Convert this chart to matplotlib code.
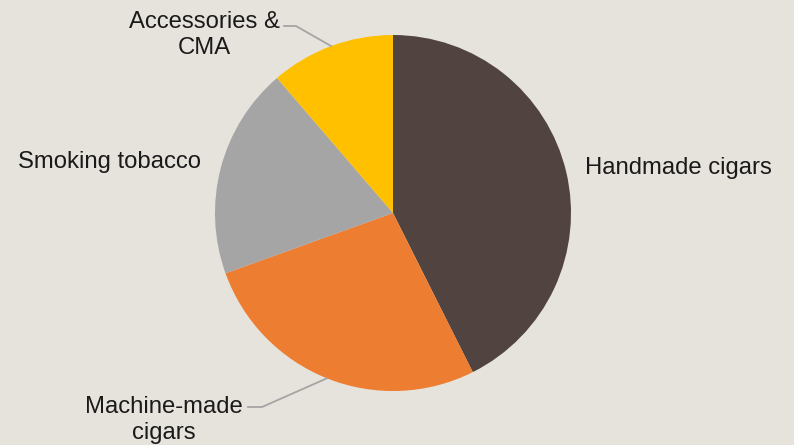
import numpy as np
import matplotlib.pyplot as plt

plt.rcParams['font.family'] = ['Liberation Sans', 'DejaVu Sans']

# доли сегментов, по часовой стрелке от верха
labels = ["Handmade cigars", "Machine-made\ncigars", "Smoking tobacco", "Accessories &\nCMA"]
shares = [42.6, 26.9, 19.2, 11.3]
colors = ["#504340", "#ED7D31", "#A5A5A5", "#FFC000"]

bg = "#E6E2DC"
W, H = 794, 445
cx, cy, R = 393, H - 213, 178

fig = plt.figure(figsize=(W / 100, H / 100), dpi=100, facecolor=bg)
ax = fig.add_axes([0, 0, 1, 1])
ax.set_facecolor(bg)

wedges, _ = ax.pie(shares, colors=colors, startangle=90, counterclock=False,
                   center=(cx, cy), radius=R, wedgeprops=dict(linewidth=0))
ax.set_xlim(0, W)
ax.set_ylim(0, H)
ax.set_aspect("equal")
ax.axis("off")

fs = 17.2
tc = "#1a1a1a"
ax.text(585, H - 168, labels[0], fontsize=fs, ha="left", va="center", color=tc)
ax.text(18, H - 162, labels[2], fontsize=fs, ha="left", va="center", color=tc)
ax.text(204, H - 35, labels[3], fontsize=fs, ha="center", va="center",
        color=tc, linespacing=1.25)
ax.text(164, H - 420, labels[1], fontsize=fs, ha="center", va="center",
        color=tc, linespacing=1.25)


def edge_point(w):
    a = np.deg2rad((w.theta1 + w.theta2) / 2)
    return cx + R * np.cos(a), cy + R * np.sin(a)


# выноски
px, py = edge_point(wedges[3])
ax.plot([284, 296, px], [H - 26, H - 26, py], color="#A5A5A5", lw=1.3)
px, py = edge_point(wedges[1])
ax.plot([248, 262, px], [H - 407, H - 407, py], color="#A5A5A5", lw=1.3)

fig.savefig("out.png", dpi=100, facecolor=bg)
